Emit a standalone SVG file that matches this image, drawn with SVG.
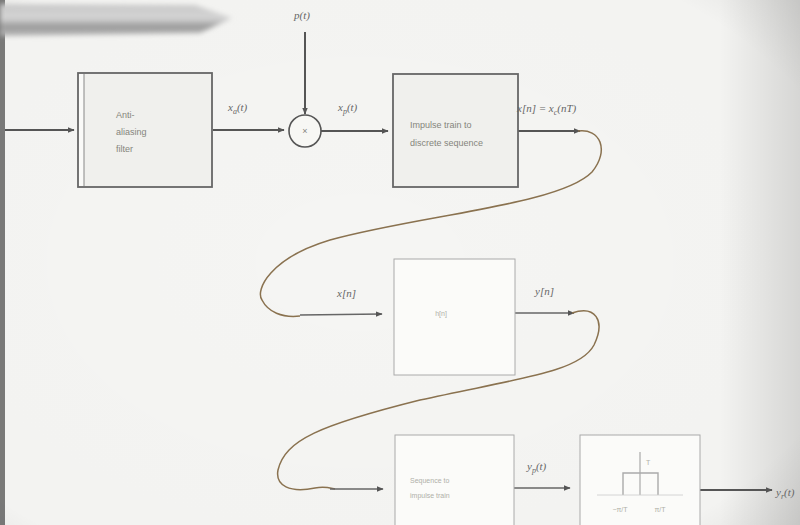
<svg xmlns="http://www.w3.org/2000/svg" width="800" height="525" viewBox="0 0 800 525">
<defs>
<radialGradient id="vig" cx="0.45" cy="0.5" r="0.8">
<stop offset="0" stop-color="#000" stop-opacity="0"/>
<stop offset="0.8" stop-color="#000" stop-opacity="0.01"/>
<stop offset="1" stop-color="#000" stop-opacity="0.12"/>
</radialGradient>
<linearGradient id="redge" x1="0" y1="0" x2="1" y2="0">
<stop offset="0" stop-color="#000" stop-opacity="0"/>
<stop offset="1" stop-color="#000" stop-opacity="0.12"/>
</linearGradient>
<linearGradient id="pencil" x1="0" y1="0" x2="0" y2="1">
<stop offset="0" stop-color="#c8c8c8"/>
<stop offset="0.45" stop-color="#d4d4d4"/>
<stop offset="0.7" stop-color="#9a9a9a"/>
<stop offset="1" stop-color="#b8b8b8"/>
</linearGradient>
<filter id="blur" x="-10%" y="-50%" width="120%" height="200%"><feGaussianBlur stdDeviation="2.5"/></filter>
<filter id="soft"><feGaussianBlur stdDeviation="0.4"/></filter>
<marker id="ah" viewBox="0 0 10 10" refX="9" refY="5" markerWidth="7" markerHeight="7" orient="auto" markerUnits="userSpaceOnUse">
<path d="M0,1 L10,5 L0,9 Z" fill="#555"/>
</marker>
<style>
.box{fill:#f0f0ed;stroke:#666;stroke-width:1.8}
.faint{fill:#fbfbf9;stroke:#aaa;stroke-width:1}
.wire{fill:none;stroke:#555;stroke-width:2;marker-end:url(#ah)}
.thin{fill:none;stroke:#666;stroke-width:1.4;marker-end:url(#ah)}
.cord{fill:none;stroke:#8a7250;stroke-width:1.5}
.lbl{font-family:"Liberation Serif",serif;font-size:11px;fill:#666;font-style:italic}
.in{font-family:"Liberation Sans",sans-serif;font-size:9px;fill:#85857c}
.tiny{font-family:"Liberation Sans",sans-serif;font-size:7px;fill:#b0b0a8}
</style>
</defs>
<rect width="800" height="525" fill="#f5f5f3"/>
<rect width="800" height="525" fill="url(#vig)"/>
<rect x="720" y="0" width="80" height="525" fill="url(#redge)"/>
<rect x="0" y="0" width="5" height="525" fill="#444" opacity="0.7"/>
<polygon points="0,4 195,5 232,18 200,33 0,36" fill="url(#pencil)" filter="url(#blur)"/>

<g id="connectors" filter="url(#soft)">
<line x1="5" y1="130" x2="74" y2="130" class="wire"/>
<line x1="213" y1="130" x2="284" y2="130" class="wire"/>
<line x1="305" y1="32" x2="305" y2="114" class="wire"/>
<line x1="321" y1="131" x2="388" y2="131" class="wire"/>
<line x1="518" y1="131" x2="580" y2="131" class="wire"/>
<path class="cord" d="M578,131 C600,128 610,150 592,172 C560,205 420,215 330,240 C270,258 255,290 262,300 C268,312 282,318 300,316"/>
<line x1="300" y1="315" x2="382" y2="314" class="thin"/>
<line x1="515" y1="313" x2="574" y2="313" class="thin"/>
<path class="cord" d="M572,313 C595,305 606,320 594,345 C580,372 520,378 420,400 C320,425 285,440 278,470 C275,486 290,493 315,488 C325,486 330,488 335,489"/>
<line x1="330" y1="489" x2="383" y2="489" class="thin"/>
<line x1="514" y1="488" x2="570" y2="488" class="thin"/>
<line x1="700" y1="490" x2="772" y2="490" class="wire"/>
</g>

<g id="n1">
<rect class="box" x="78" y="73" width="134" height="114"/>
<rect x="79" y="74" width="5" height="112" fill="#fafaf8"/>
<line x1="84" y1="74" x2="84" y2="186" stroke="#888" stroke-width="1"/>
<text class="in" x="116" y="118">Anti-</text>
<text class="in" x="116" y="135">aliasing</text>
<text class="in" x="116" y="152">filter</text>
</g>
<g id="n2">
<circle cx="305" cy="131" r="16" fill="#f7f7f4" stroke="#555" stroke-width="1.6"/>
<text class="in" x="305" y="134" text-anchor="middle" font-size="8">×</text>
</g>
<g id="n3">
<rect class="box" x="393" y="74" width="125" height="113" fill="#f6f6f3"/>
<text class="in" x="410" y="128">Impulse train to</text>
<text class="in" x="410" y="146">discrete sequence</text>
</g>
<g id="n4">
<rect class="faint" x="394" y="259" width="121" height="116"/>
<text class="tiny" x="441" y="316" text-anchor="middle">h[n]</text>
</g>
<g id="n5">
<rect class="faint" x="395" y="435" width="119" height="95"/>
<text class="tiny" x="410" y="483">Sequence to</text>
<text class="tiny" x="410" y="498">impulse train</text>
</g>
<g id="n6">
<rect class="faint" x="580" y="435" width="120" height="95"/>
<line x1="640" y1="452" x2="640" y2="495" stroke="#999" stroke-width="1"/>
<polyline points="623,495 623,473 658,473 658,495" fill="none" stroke="#aaa" stroke-width="1.4"/>
<line x1="597" y1="495" x2="683" y2="495" stroke="#ccc" stroke-width="0.8"/>
<text class="tiny" x="646" y="465">T</text>
<text class="tiny" x="620" y="512" text-anchor="middle">−π/T</text>
<text class="tiny" x="660" y="512" text-anchor="middle">π/T</text>
</g>

<g id="labels">
<text class="lbl" x="302" y="19" text-anchor="middle">p(t)</text>
<text class="lbl" x="228" y="111">x<tspan font-size="8" dy="3">a</tspan><tspan dy="-3">(t)</tspan></text>
<text class="lbl" x="338" y="111">x<tspan font-size="8" dy="3">p</tspan><tspan dy="-3">(t)</tspan></text>
<text class="lbl" x="517" y="112">x[n] = x<tspan font-size="8" dy="3">c</tspan><tspan dy="-3">(nT)</tspan></text>
<text class="lbl" x="337" y="297" fill="#999">x[n]</text>
<text class="lbl" x="535" y="295" fill="#999">y[n]</text>
<text class="lbl" x="527" y="470" fill="#aaa">y<tspan font-size="8" dy="3">p</tspan><tspan dy="-3">(t)</tspan></text>
<text class="lbl" x="776" y="496">y<tspan font-size="8" dy="3">r</tspan><tspan dy="-3">(t)</tspan></text>
</g>
</svg>
